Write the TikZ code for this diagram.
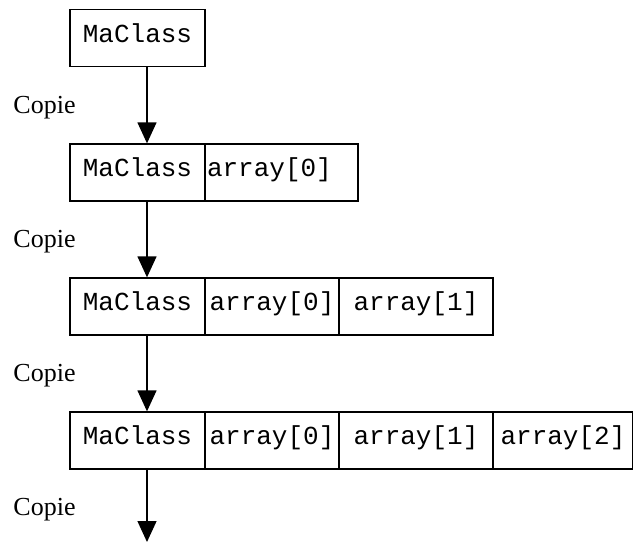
\documentclass[tikz,border=0pt]{standalone}
\usepackage{fontspec}
\usepackage{tikz}
\usetikzlibrary{arrows.meta}
\setmainfont{Liberation Serif}
\newfontfamily\cellfont{Liberation Mono}

\begin{document}
\begin{tikzpicture}[x=1pt,y=-1pt,line width=1.3pt,
  cell/.style={draw,inner sep=0pt,minimum height=57pt,text height=16pt,text depth=8pt,font=\cellfont\fontsize{26}{26}\selectfont},
  copie/.style={font=\fontsize{26}{26}\selectfont},
  fleche/.style={-{Triangle[length=21pt,width=19pt]}}]
  \useasboundingbox (0,0) rectangle (633,542);

  \node[cell,minimum width=135pt] (m1) at (137.5,38) {MaClass};

  \node[cell,minimum width=135pt] (m2) at (137.5,172.5) {MaClass};
  \node[cell,text width=149pt,inner xsep=2pt,align=left] (a20) at (281.5,172.5) {array[0]};

  \node[cell,minimum width=135pt] (m3) at (137.5,306.5) {MaClass};
  \node[cell,minimum width=134pt] (a30) at (272,306.5) {array[0]};
  \node[cell,minimum width=154pt] (a31) at (416,306.5) {array[1]};

  \node[cell,minimum width=135pt] (m4) at (137.5,440.5) {MaClass};
  \node[cell,minimum width=134pt] (a40) at (272,440.5) {array[0]};
  \node[cell,minimum width=154pt] (a41) at (416,440.5) {array[1]};
  \node[cell,minimum width=140pt] (a42) at (563,440.5) {array[2]};

  \node[copie] (c1) at (44.5,108) {Copie};
  \node[copie] (c2) at (44.5,242) {Copie};
  \node[copie] (c3) at (44.5,376) {Copie};
  \node[copie] (c4) at (44.5,510) {Copie};

  \coordinate (fin) at (147,542);

  \draw[fleche] ([xshift=9.5pt]m1.south)--([xshift=9.5pt]m2.north);
  \draw[fleche] ([xshift=9.5pt]m2.south)--([xshift=9.5pt]m3.north);
  \draw[fleche] ([xshift=9.5pt]m3.south)--([xshift=9.5pt]m4.north);
  \draw[fleche] ([xshift=9.5pt]m4.south)--(fin);
\end{tikzpicture}
\end{document}
